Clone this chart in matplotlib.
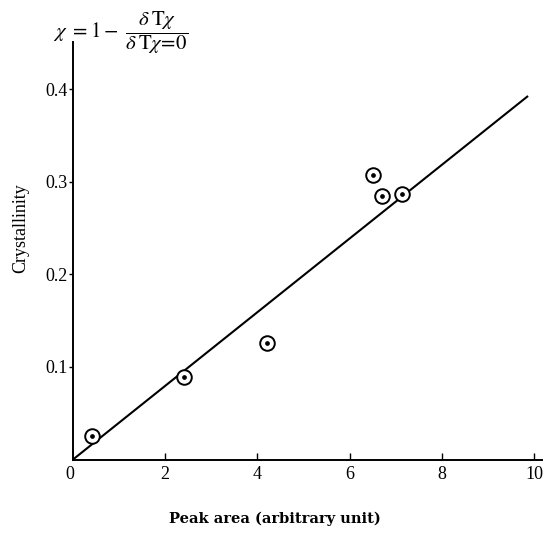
import matplotlib
matplotlib.use("Agg")
import matplotlib.pyplot as plt
import numpy as np

# Data
peak_area = [0.42, 2.40, 4.21, 6.50, 6.70, 7.14]
crystallinity = [0.025, 0.089, 0.126, 0.307, 0.285, 0.287]
fit_x = [0.0, 9.85]
fit_y = [0.0, 0.392]
x_ticks = [2, 4, 6, 8, 10]
y_ticks = [0.1, 0.2, 0.3, 0.4]
y_tick_labels = ["0.1", "0.2", "0.3", "0.4"]

plt.rcParams['font.family'] = ['Liberation Serif', 'DejaVu Serif']
plt.rcParams['mathtext.fontset'] = 'stix'

W, H = 551, 533
fig = plt.figure(figsize=(W/100, H/100), dpi=100)
x0, y0, x1, y1 = 73, 459.5, 542, 42
ax = fig.add_axes([x0/W, (H-y0)/H, (x1-x0)/W, (y0-y1)/H])

ax.plot(fit_x, fit_y, color='black', lw=1.5)
ax.plot(peak_area, crystallinity, linestyle='none', marker='o', markersize=10.5,
        markerfacecolor='white', markeredgecolor='black', markeredgewidth=1.4)
ax.plot(peak_area, crystallinity, linestyle='none', marker='o', markersize=2.4,
        color='black')

ax.set_xlim(0, 10.17)
ax.set_ylim(0, 0.451)
for s in ['top', 'right']:
    ax.spines[s].set_visible(False)
for s in ['left', 'bottom']:
    ax.spines[s].set_linewidth(1.4)

ax.set_xticks(x_ticks)
ax.set_xticklabels([str(t) for t in x_ticks], fontsize=13)
ax.set_yticks(y_ticks)
ax.set_yticklabels(y_tick_labels, fontsize=13)
ax.tick_params(axis='x', direction='in', length=5, width=1, pad=5)
ax.tick_params(axis='y', direction='out', length=3, width=1, pad=1)
ax.text(-0.07, -0.0075, "0", ha='center', va='top', fontsize=13,
        transform=ax.transData)

fig.text(275/W, 1 - 519/H, "Peak area (arbitrary unit)", fontsize=10.5,
         fontweight='bold', family=['DejaVu Serif'], ha='center', va='center')
fig.text(21/W, 1 - 228/H, "Crystallinity", fontsize=13, rotation=90,
         ha='center', va='center')

fig.text(53/W, 1 - 33/H,
         r'$\chi\ =1-\ \dfrac{\delta\,\mathrm{T}\chi}{\delta\,\mathrm{T}\chi\!=\!0}$',
         fontsize=15, ha='left', va='center')

fig.savefig("out.png", dpi=100)
